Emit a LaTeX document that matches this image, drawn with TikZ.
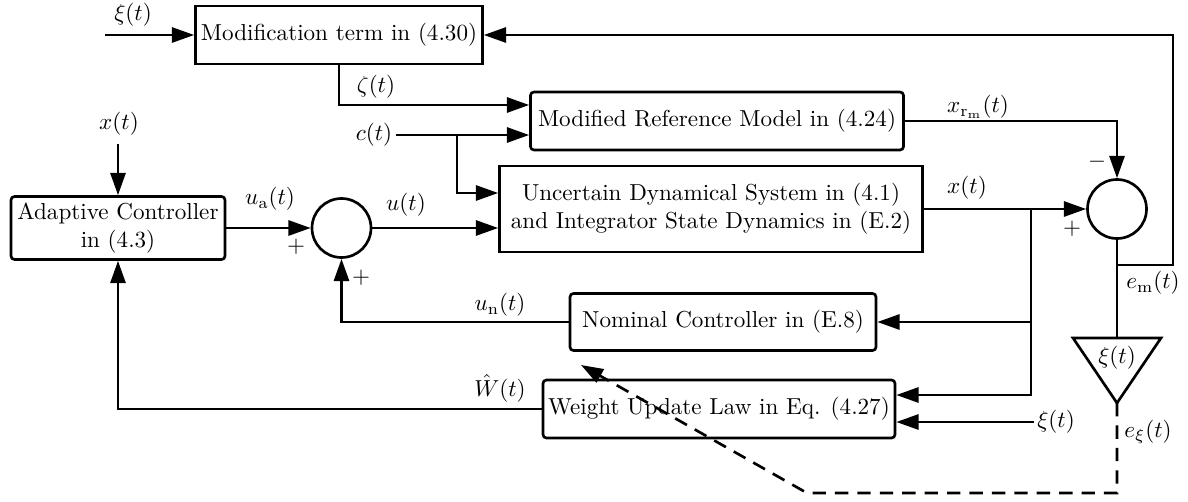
\documentclass[tikz,border=0pt]{standalone}
\usetikzlibrary{arrows.meta,calc}
\newdimen\pxl \pxl=0.4327pt
\begin{document}
\begin{tikzpicture}[x=\pxl,y=-\pxl,
  line width=1.15pt,
  arr/.style={-{Triangle[length=9.6pt,width=6.5pt]}},
  blk/.style={draw,line width=1.15pt,align=center,inner sep=1pt},
  rblk/.style={blk,rounded corners=1.5pt},
  sumc/.style={draw,circle,line width=1.15pt,minimum size=59\pxl,inner sep=0pt},
  lbl/.style={inner sep=1pt}]
\useasboundingbox (0,0) rectangle (1188,501);
% blocks
\node[blk,minimum width=287\pxl,minimum height=58\pxl] (mod) at (339,35) {Modification term in (4.30)};
\node[rblk,minimum width=373\pxl,minimum height=58\pxl] (mrm) at (717,121) {Modified Reference Model in (4.24)};
\node[blk,minimum width=423\pxl,minimum height=86\pxl] (uds) at (711,209) {Uncertain Dynamical System in (4.1)\\and Integrator State Dynamics in (E.2)};
\node[rblk,minimum width=214\pxl,minimum height=63\pxl] (ac) at (118,228) {Adaptive Controller\\in (4.3)};
\node[sumc] (s1) at (341.5,228) {};
\node[sumc] (s2) at (1117,209) {};
\node[rblk,minimum width=306\pxl,minimum height=57\pxl] (nc) at (723,322) {Nominal Controller in (E.8)};
\node[rblk,minimum width=352\pxl,minimum height=58\pxl] (wu) at (719,409) {Weight Update Law in Eq. (4.27)};
% gain triangle
\coordinate (tritop) at (1117,338);
\coordinate (tritip) at (1117,403);
\draw[line join=miter] (1073,338) -- (1161,338) -- (tritip) -- cycle;
\node[lbl] (trilbl) at (1117,358) {$\xi(t)$};
% inputs
\coordinate (xiin) at (105,35);
\node[lbl] (xilbl) at (133,15) {$\xi(t)$};
\draw[arr] (xiin) -- (mod.west);
\draw[arr] (mod.south) -- (mod.south |- 0,105) -- ($(mrm.west)+(0,-16)$);
\node[lbl] (zlbl) at (376,87) {$\zeta(t)$};
\node[lbl] (cin) at (374,135) {$c(t)$};
\draw[arr] (cin.east) -- ($(mrm.west)+(0,14)$);
\coordinate (cb) at (457,135);
\draw[arr] (cb) -- (457,193) -- ($(uds.west)+(0,-16)$);
\node[lbl] (xin) at (119,124) {$x(t)$};
\coordinate (xs) at (118,144);
\draw[arr] (xs) -- (ac.north);
\draw[arr] (ac.east) -- (s1.west);
\node[lbl] at (270,199) {$u_{\mathrm{a}}(t)$};
\node[lbl] at (296,247) {$+$};
\draw[arr] (s1.east) -- (uds.west |- s1.east);
\node[lbl] at (406,205) {$u(t)$};
\draw[arr] (uds.east) -- (s2.west);
\node[lbl] at (967,188) {$x(t)$};
\draw[arr] (mrm.east) -| (s2.north);
\node[lbl] at (978,107) {$x_{\mathrm{r}_\mathrm{m}}(t)$};
\node[lbl] at (1097,162) {$-$};
\node[lbl] at (1072,229) {$+$};
% branch of x(t)
\coordinate (bx) at (1031,209);
\draw[arr] (bx) -- (1031,395) -- ($(wu.east)+(0,-14)$);
\draw[arr] (bx |- nc.east) -- (nc.east);
\node[lbl] (xi2) at (1056,422) {$\xi(t)$};
\draw[arr] (xi2.west) -- ($(wu.east)+(0,13)$);
% feedbacks
\draw[arr] (nc.west) -| (s1.south);
\node[lbl] at (500,305) {$u_{\mathrm{n}}(t)$};
\node[lbl] at (361,278) {$+$};
\draw[arr] (wu.west) -| (ac.south);
\node[lbl] at (500,388) {$\hat{W}(t)$};
% error loop
\draw (s2.south) -- (tritop);
\draw[arr] (s2.south |- 0,265) -- (1173,265) -- (1173,35) -- (mod.east);
\node[lbl] at (1153,283) {$e_{\mathrm{m}}(t)$};
\node[lbl] at (1148,432) {$e_{\xi}(t)$};
\draw[arr,dashed,dash pattern=on 5.8pt off 3.9pt] (tritip) -- (1117,493) -- (807,493) -- (581,365);
\end{tikzpicture}
\end{document}
